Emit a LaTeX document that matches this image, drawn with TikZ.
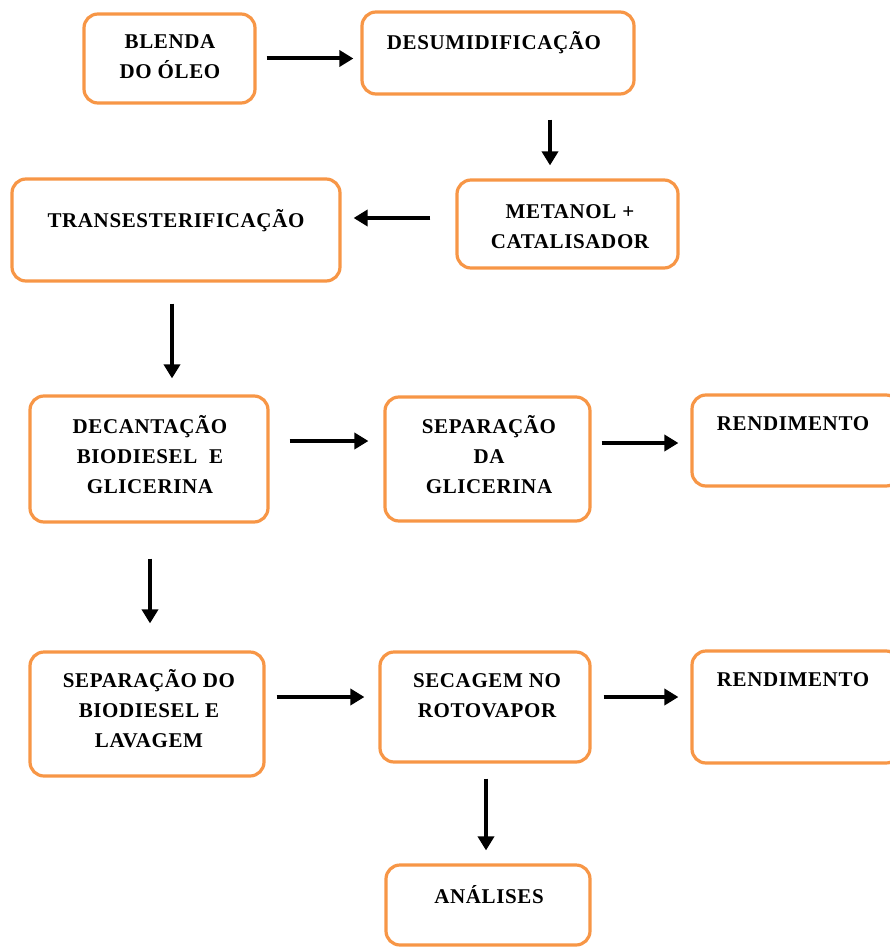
\documentclass[tikz,border=0pt]{standalone}
\usepackage{fontspec}
\setmainfont{Liberation Serif}[LetterSpace=3]
\usetikzlibrary{arrows.meta}
\definecolor{boxorange}{RGB}{247,150,70}
\tikzset{
  box/.style={draw=boxorange, line width=3.2pt, rounded corners=14pt, fill=white, inner sep=0pt},
  lbl/.style={anchor=north, inner sep=0pt, align=center, font=\fontsize{21}{30}\selectfont\bfseries},
  arr/.style={line width=4pt, -{Triangle[length=14pt,width=16pt]}}
}
\begin{document}
\begin{tikzpicture}[x=1pt,y=-1pt]
\useasboundingbox (0,0) rectangle (890,947);
\clip (0,0) rectangle (890,947);
% boxes
\node[box, minimum width=171pt, minimum height=89pt] (b1) at (169.5,58.5) {};
\node[box, minimum width=272pt, minimum height=82pt] (b2) at (498,53) {};
\node[box, minimum width=221pt, minimum height=88pt] (b3) at (567.5,224) {};
\node[box, minimum width=328pt, minimum height=102pt] (b4) at (176,230) {};
\node[box, minimum width=238pt, minimum height=126pt] (b5) at (149,459) {};
\node[box, minimum width=205pt, minimum height=124pt] (b6) at (487.5,459) {};
\node[box, minimum width=208pt, minimum height=91pt] (b7) at (796,440.5) {};
\node[box, minimum width=234pt, minimum height=124pt] (b8) at (147,714) {};
\node[box, minimum width=210pt, minimum height=110pt] (b9) at (485,707) {};
\node[box, minimum width=208pt, minimum height=112pt] (b10) at (796,707) {};
\node[box, minimum width=204pt, minimum height=80pt] (b11) at (488,905) {};
% texts
\node[lbl] (t1) at (170,27) {\strut BLENDA\\DO ÓLEO};
\node[lbl] (t2) at (494,28) {\strut DESUMIDIFICAÇÃO};
\node[lbl] (t3) at (570,197) {\strut METANOL +\\CATALISADOR};
\node[lbl] (t4) at (176,206.5) {\strut TRANSESTERIFICAÇÃO};
\node[lbl] (t5) at (150,412) {\strut DECANTAÇÃO\\BIODIESEL\ \ E\\GLICERINA};
\node[lbl] (t6) at (489,412.5) {\strut SEPARAÇÃO\\DA\\GLICERINA};
\node[lbl] (t7) at (793,409.5) {\strut RENDIMENTO};
\node[lbl] (t8) at (149,666.5) {\strut SEPARAÇÃO DO\\BIODIESEL E\\LAVAGEM};
\node[lbl] (t9) at (487,666.5) {\strut SECAGEM NO\\ROTOVAPOR};
\node[lbl] (t10) at (793,665.7) {\strut RENDIMENTO};
\node[lbl] (t11) at (489,882) {\strut ANÁLISES};
% arrows
\draw[arr, shorten <=10pt, shorten >=7pt] (b1.east) -- (b1.east -| b2.west);
\draw[arr, shorten <=24pt, shorten >=13pt] ([xshift=52pt]b2.south) -- ([xshift=52pt]b2.south |- b3.north);
\draw[arr, shorten <=25pt, shorten >=12pt] ([yshift=6pt]b3.west) -- ([yshift=6pt]b3.west -| b4.east);
\draw[arr, shorten <=21pt, shorten >=16pt] ([xshift=-4pt]b4.south) -- ([xshift=-4pt]b4.south |- b5.north);
\draw[arr, shorten <=20pt, shorten >=15pt] ([yshift=18pt]b5.east) -- ([yshift=18pt]b5.east -| b6.west);
\draw[arr, shorten <=10pt, shorten >=12pt] ([yshift=16pt]b6.east) -- ([yshift=16pt]b6.east -| b7.west);
\draw[arr, shorten <=35pt, shorten >=27pt] ([xshift=1pt]b5.south) -- ([xshift=1pt]b5.south |- b8.north);
\draw[arr, shorten <=11pt, shorten >=14pt] ([yshift=17pt]b8.east) -- ([yshift=17pt]b8.east -| b9.west);
\draw[arr, shorten <=12pt, shorten >=12pt] ([yshift=10pt]b9.east) -- ([yshift=10pt]b9.east -| b10.west);
\draw[arr, shorten <=15pt, shorten >=13pt] ([xshift=1pt]b9.south) -- ([xshift=1pt]b9.south |- b11.north);
\end{tikzpicture}
\end{document}
